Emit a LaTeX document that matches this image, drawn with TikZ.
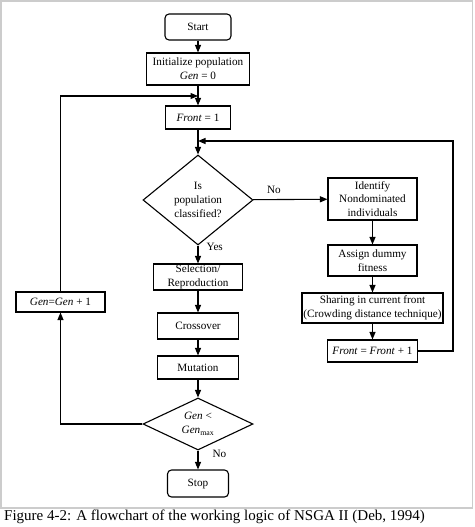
\documentclass[tikz,border=0pt]{standalone}
\usepackage{fontspec}
\setmainfont{Liberation Serif}
\usetikzlibrary{shapes.geometric,arrows.meta}
\begin{document}
\begin{tikzpicture}[x=1pt,y=-1pt,
  every node/.style={font=\fontsize{11.2}{13.8}\selectfont, align=center, inner sep=0pt},
  box/.style={draw, line width=1.1pt, rectangle},
  term/.style={draw, line width=1.1pt, rectangle, rounded corners=4pt},
  dec/.style={draw, line width=1.1pt, shape=diamond},
  conn/.style={line width=1.1pt},
  arr/.style={conn, -{Triangle[length=7.5pt,width=6pt]}},
  lbl/.style={font=\fontsize{11.2}{13.8}\selectfont}]
\useasboundingbox (0,0) rectangle (474,527);
\draw[gray!40, line width=1.6pt] (1,1) rectangle (472.5,508);
% main column
\node[term, minimum width=66pt, minimum height=26pt] (start) at (198,27) {Start};
\node[box, minimum width=103pt, minimum height=32pt] (init) at (198,69) {Initialize population\\\textit{Gen} = 0};
\node[box, minimum width=65pt, minimum height=23pt] (front1) at (198,117.5) {\textit{Front} = 1};
\node[dec, minimum width=110pt, minimum height=90pt, aspect=1.22] (d1) at (198,200) {Is\\population\\classified?};
\node[box, minimum width=89pt, minimum height=26pt] (sel) at (198,277) {Selection/\\Reproduction};
\node[box, minimum width=81pt, minimum height=26pt] (cross) at (198,326) {Crossover};
\node[box, minimum width=81pt, minimum height=23pt] (mut) at (198,367.5) {Mutation};
\node[dec, minimum width=110pt, minimum height=52pt, aspect=2.1] (d2) at (198,424) {\textit{Gen} <\\\textit{Gen}\textsubscript{max}};
\node[term, minimum width=61pt, minimum height=27pt] (stop) at (198,483.5) {Stop};
% right column
\node[box, minimum width=89pt, minimum height=42pt] (ident) at (372.5,199) {Identify\\Nondominated\\individuals};
\node[box, minimum width=89pt, minimum height=31pt] (assign) at (372.5,260.5) {Assign dummy\\fitness};
\node[box, minimum width=141pt, minimum height=30pt] (share) at (372.5,308) {Sharing in current front\\(Crowding distance technique)};
\node[box, minimum width=90pt, minimum height=22pt] (frontp) at (372.5,351) {\textit{Front} = \textit{Front} + 1};
% left
\node[box, minimum width=89pt, minimum height=20pt] (gen) at (60.5,302) {\textit{Gen}=\textit{Gen} + 1};
% junctions
\coordinate (lj) at (198,96);
\coordinate (rj) at (198,141);
\coordinate (rc) at (453,141);
\coordinate (lc) at (60.5,96);
% connectors
\draw[arr] (start) -- (init);
\draw[arr] (init) -- (front1);
\draw[arr] (front1) -- (d1);
\draw[arr] (d1) -- node[lbl, pos=0.28, above=5pt] {No} (ident);
\draw[arr] (d1) -- node[lbl, pos=0.1, right=8pt] {Yes} (sel);
\draw[arr] (sel) -- (cross);
\draw[arr] (cross) -- (mut);
\draw[arr] (mut) -- (d2);
\draw[arr] (d2) -- node[lbl, pos=0.2, right=14pt] {No} (stop);
\draw[arr] (ident) -- (assign);
\draw[arr] (assign) -- (share);
\draw[arr] (share) -- (frontp);
\draw[arr] (frontp.east) -| (rc) -- (rj);
\draw[arr] (d2.west) -| (gen.south);
\draw[arr] (gen.north) -- (lc) -- (lj);
% caption
\node[anchor=west, font=\fontsize{15}{18}\selectfont] (cap) at (4,517) {Figure 4-2: A flowchart of the working logic of NSGA II (Deb, 1994)};
\end{tikzpicture}
\end{document}
